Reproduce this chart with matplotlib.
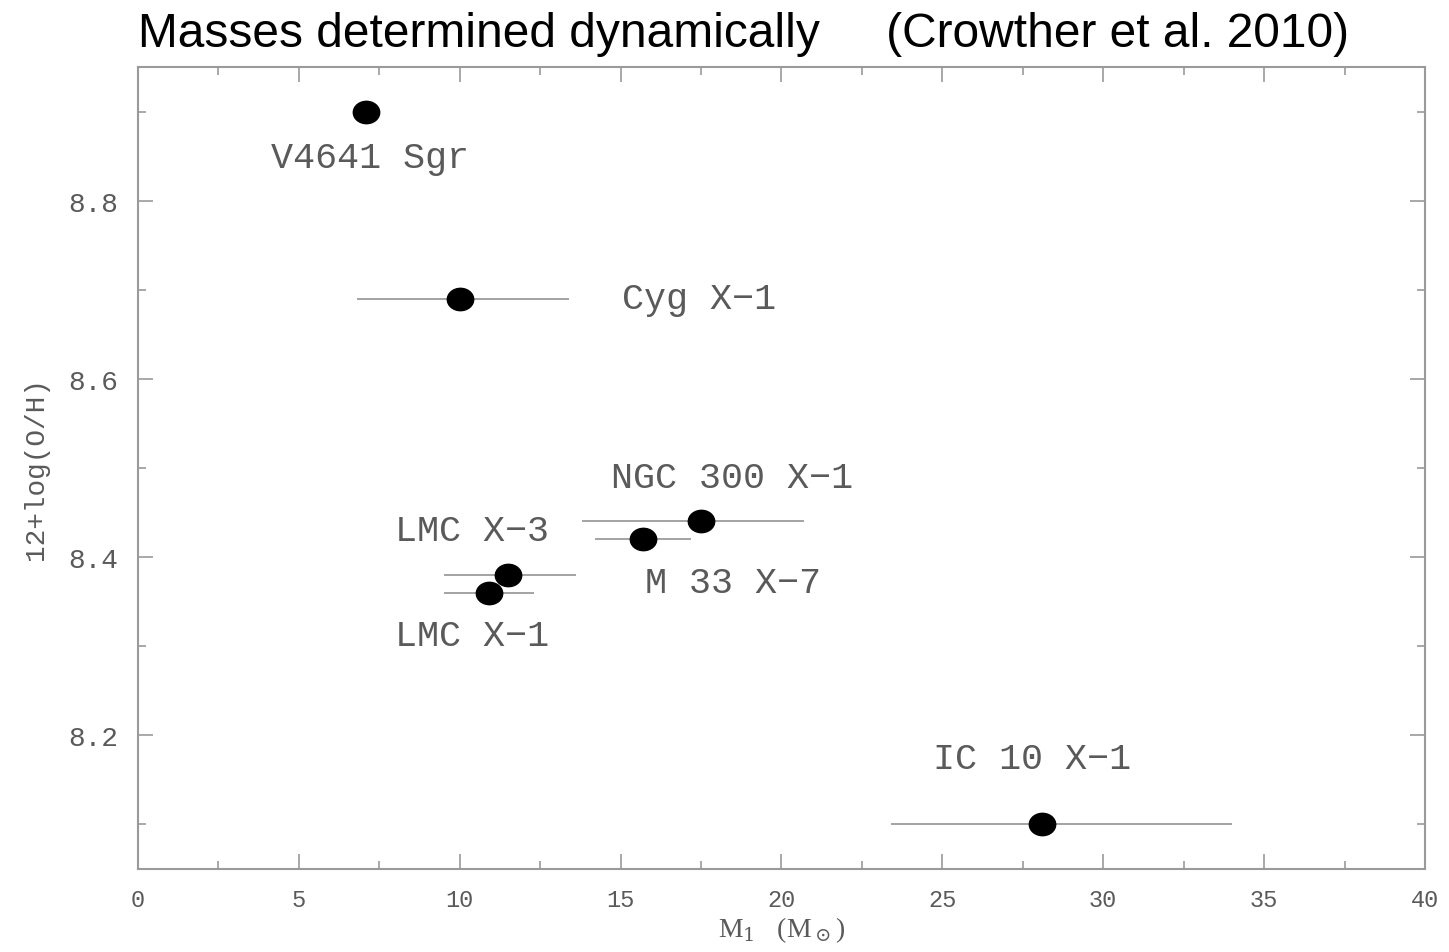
import matplotlib
matplotlib.use('Agg')
import matplotlib.pyplot as plt
from matplotlib.ticker import MultipleLocator
from matplotlib.path import Path
from matplotlib.transforms import Affine2D

# black hole mass vs host metallicity
names = ['V4641 Sgr', 'Cyg X\u22121', 'NGC 300 X\u22121', 'M 33 X\u22127',
         'LMC X\u22123', 'LMC X\u22121', 'IC 10 X\u22121']
mass = [7.1, 10.0, 17.5, 15.7, 11.5, 10.9, 28.1]
oh = [8.90, 8.69, 8.44, 8.42, 8.38, 8.36, 8.10]
mass_lo = [0.0, 3.2, 3.7, 1.5, 2.0, 1.4, 4.7]
mass_hi = [0.0, 3.4, 3.2, 1.5, 2.1, 1.4, 5.9]

# where the names sit
label_x = [4.15, 15.05, 14.7, 15.75, 7.98, 7.98, 24.7]
label_y = [8.849, 8.690, 8.489, 8.371, 8.430, 8.312, 8.174]

mono = ['Liberation Mono', 'DejaVu Sans Mono']
grey = '#5a5a5a'
axgrey = '#9a9a9a'

plt.rcParams['mathtext.fontset'] = 'dejavuserif'

fig = plt.figure(figsize=(14.49, 9.53), dpi=100)
ax = fig.add_axes([0.0952, 0.0871, 0.8882, 0.8415])

ax.errorbar(mass, oh, xerr=[mass_lo, mass_hi], fmt='none',
            ecolor='#8a8a8a', elinewidth=1.1, capsize=0, zorder=2)

oval = Path.unit_circle().transformed(Affine2D().scale(1.18, 1.0))
ax.plot(mass, oh, linestyle='none', marker=oval, ms=19,
        color='black', zorder=3)

for n, lx, ly in zip(names, label_x, label_y):
    ax.text(lx, ly, n, family=mono, fontsize=26.5, color=grey,
            ha='left', va='center')

ax.set_xlim(0, 40)
ax.set_ylim(8.05, 8.95)
ax.xaxis.set_major_locator(MultipleLocator(5))
ax.xaxis.set_minor_locator(MultipleLocator(2.5))
ax.yaxis.set_minor_locator(MultipleLocator(0.1))
ax.set_yticks([8.2, 8.4, 8.6, 8.8])
ax.set_yticklabels(['8.2', '8.4', '8.6', '8.8'])

ax.tick_params(which='both', direction='in', top=True, right=True,
               color=axgrey, width=1.2)
ax.tick_params(which='major', length=11)
ax.tick_params(which='minor', length=6)
ax.tick_params(axis='x', labelsize=17, labelcolor=grey, pad=14)
ax.tick_params(axis='y', labelsize=20, labelcolor=grey, pad=14)
for lab in ax.get_xticklabels() + ax.get_yticklabels():
    lab.set_family(mono)
for s in ax.spines.values():
    s.set_color(axgrey)
    s.set_linewidth(1.5)

ax.set_xlabel(r'M$_1$   (M$_\odot$)', fontsize=20, color=grey,
              family='Liberation Serif', labelpad=2)
ax.set_ylabel('12+log(O/H)', fontsize=20, color=grey,
              family=mono, labelpad=14)

fig.text(0.0952, 0.951, 'Masses determined dynamically     (Crowther et al. 2010)',
         fontsize=34.5, family='Liberation Sans', color='black',
         ha='left', va='baseline')

fig.savefig('out.png', dpi=100)
